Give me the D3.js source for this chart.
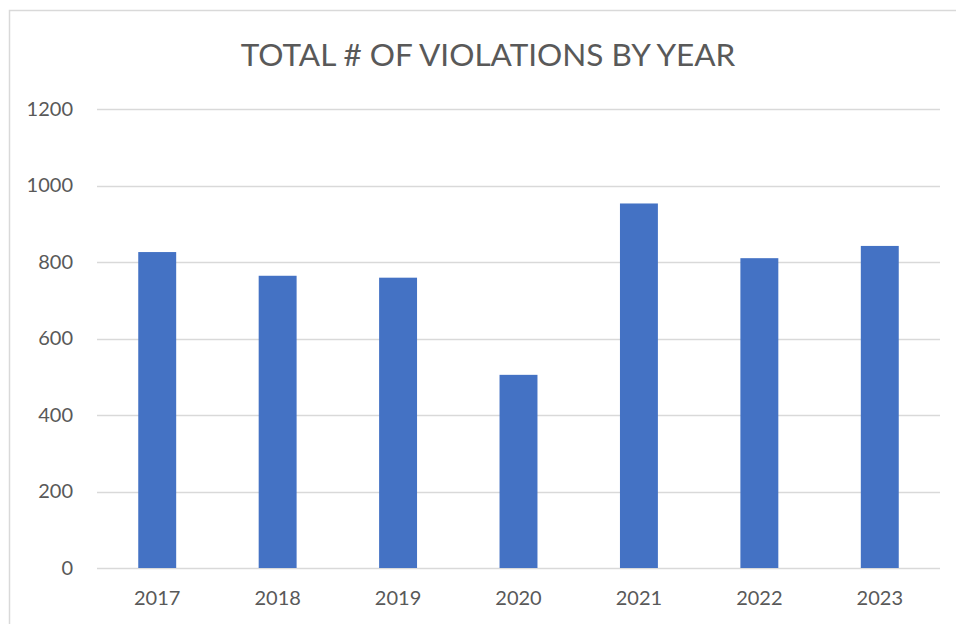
<!DOCTYPE html>
<html>
<head>
<meta charset="utf-8">
<script src="https://cdn.jsdelivr.net/npm/d3@7"></script>
<style>
  body { margin: 0; background: #fff; }
  svg text { font-family: Lato, "Open Sans", sans-serif; fill: #595959; }
</style>
</head>
<body>
<div id="chart"></div>
<script>
// data
let years = ["2017", "2018", "2019", "2020", "2021", "2022", "2023"];
let violations = [826, 764, 759, 505, 953, 810, 842];
let yTicks = [0, 200, 400, 600, 800, 1000, 1200];
let title = "TOTAL # OF VIOLATIONS BY YEAR";

//Width and height
let width = 956,
    height = 624,
    margin = {top: 109, bottom: 56, left: 97, right: 16};

let svg = d3.select("#chart").append("svg")
    .attr("width", width)
    .attr("height", height);

// chart frame (runs off the right and bottom edge)
svg.append("rect")
    .attr("x", 9.5)
    .attr("y", 10.5)
    .attr("width", width + 20)
    .attr("height", height + 20)
    .attr("fill", "none")
    .attr("stroke", "#d9d9d9")
    .attr("stroke-width", 1.5);

// scales
let x = d3.scaleBand()
    .domain(years)
    .range([margin.left, width - margin.right])
    .paddingInner(0.685)
    .paddingOuter(0.3425);

let y = d3.scaleLinear()
    .domain([0, 1200])
    .range([height - margin.bottom, margin.top]);

// gridlines
svg.append("g")
    .selectAll("line")
    .data(yTicks)
    .enter()
    .append("line")
    .attr("x1", margin.left)
    .attr("x2", width - margin.right)
    .attr("y1", d => Math.round(y(d)) + 0.5)
    .attr("y2", d => Math.round(y(d)) + 0.5)
    .attr("stroke", "#d9d9d9")
    .attr("stroke-width", 1.3);

// y axis labels
let yAxis = d3.axisLeft(y).tickValues(yTicks).tickFormat(d3.format("d")).tickSize(0).tickPadding(24);
svg.append("g")
    .attr("transform", "translate(" + margin.left + ",0)")
    .call(yAxis)
    .call(g => g.select(".domain").remove())
    .selectAll("text")
    .style("font-size", "20px")
    .attr("fill", "#595959");

// bars
svg.append("g")
    .selectAll("rect")
    .data(violations)
    .enter()
    .append("rect")
    .attr("x", (d, i) => x(years[i]))
    .attr("y", d => y(d))
    .attr("width", x.bandwidth())
    .attr("height", d => y(0) - y(d))
    .attr("fill", "#4472c4");

// x axis labels
let xAxis = d3.axisBottom(x).tickSize(0).tickPadding(23);
svg.append("g")
    .attr("transform", "translate(0," + y(0) + ")")
    .call(xAxis)
    .call(g => g.select(".domain").remove())
    .selectAll("text")
    .style("font-size", "20px")
    .attr("fill", "#595959");

// title
svg.append("text")
    .attr("x", 488)
    .attr("y", 66)
    .attr("text-anchor", "middle")
    .style("font-size", "31.5px")
    .text(title);
</script>
</body>
</html>
